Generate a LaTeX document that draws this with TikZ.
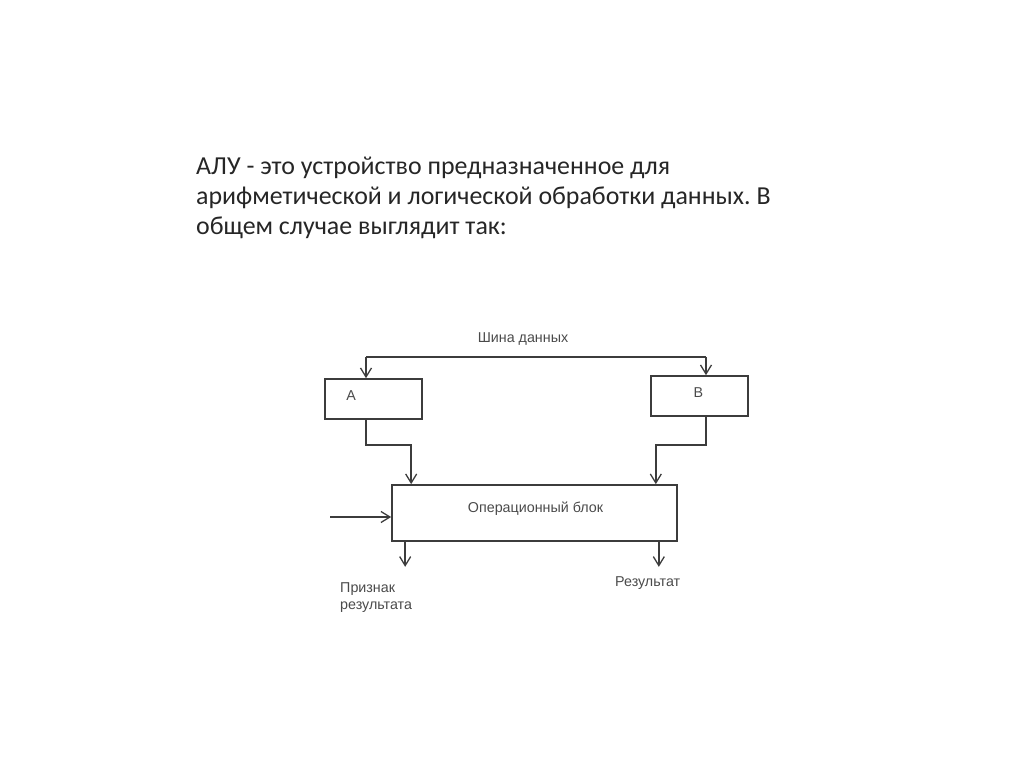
\documentclass[tikz,border=0pt]{standalone}
\usepackage{fontspec}
\setmainfont{Carlito}
\newfontfamily\diafont{Liberation Sans}
\usetikzlibrary{arrows.meta,positioning,calc}
\definecolor{linegray}{HTML}{3C3C3C}
\definecolor{textgray}{HTML}{4A4A4A}
\frenchspacing

\begin{document}
\begin{tikzpicture}[
  x=0.03cm, y=-0.03cm,
  blk/.style={rectangle, draw=linegray, line width=1.4pt, inner sep=0pt},
  lbl/.style={font=\diafont\fontsize{12.2}{14.5}\selectfont, text=textgray, inner sep=0pt},
  arr/.style={-{Straight Barb[length=2.7mm, width=3.3mm, line width=1.1pt]}, draw=linegray, line width=1.4pt},
  wire/.style={draw=linegray, line width=1.4pt}
]
  \useasboundingbox (0,0) rectangle (1024,767);
  \node[anchor=north west, align=left, inner sep=0pt, text=black!85,
        font=\fontsize{22.1}{25.6}\selectfont] (title) at (196,157)
    {АЛУ - это устройство предназначенное для\\
     арифметической и логической обработки данных. В\\
     общем случае выглядит так:};
  \node[blk, minimum width=2.91cm, minimum height=1.2cm] (a) at (373.5,399) {};
  \node[lbl, anchor=west] at ($(a.west)+(22,-3)$) {A};
  \node[blk, minimum width=2.91cm, minimum height=1.2cm] (b) at (699.5,396) {};
  \node[lbl] at ($(b.center)+(-1,-3)$) {B};
  \node[blk, minimum width=8.55cm, minimum height=1.68cm] (op) at (534.5,513) {};
  \node[lbl] (oplbl) at ($(op.center)+(1,-4)$) {Операционный блок};
  \coordinate (busA) at (366,357);
  \coordinate (busB) at (706,357);
  \node[lbl] (bus) at (523,339) {Шина данных};
  \draw[wire] (busA) -- (busB);
  \draw[arr] (busA) -- (busA |- a.north);
  \draw[arr] (busB) -- (busB |- b.north);
  \draw[arr] (a.south -| busA) |- ($(op.north west)+(20,-39)$) -- ($(op.north west)+(20,0)$);
  \draw[arr] (b.south -| busB) |- ($(op.north east)+(-22,-39)$) -- ($(op.north east)+(-22,0)$);
  \coordinate (in) at (330,517);
  \draw[arr] (in) -- (in -| op.west);
  \draw[arr] ($(op.south west)+(14,0)$) -- ++(0,25);
  \draw[arr] ($(op.south east)+(-19,0)$) -- ++(0,25);
  \node[lbl, anchor=north west, align=left] (flag) at (340,582) {Признак\\результата};
  \node[lbl, anchor=north west] (res) at (615,576) {Результат};
\end{tikzpicture}
\end{document}
